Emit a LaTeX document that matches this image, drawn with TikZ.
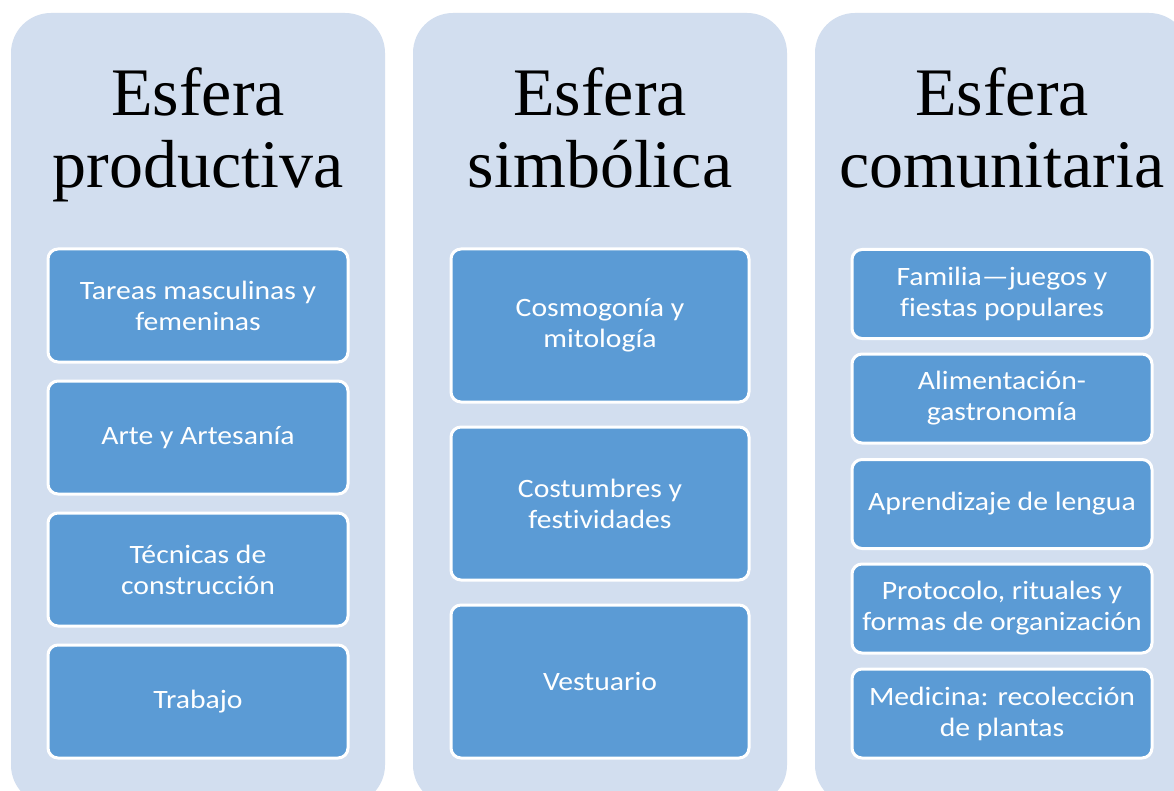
\documentclass[tikz,border=0pt]{standalone}
\usepackage{fontspec}
\setmainfont{Liberation Serif}
\newfontfamily\boxfont[FakeStretch=1.12,Ligatures={NoCommon}]{Carlito}
\definecolor{panelbg}{HTML}{D2DEEF}
\definecolor{boxblue}{HTML}{5B9BD5}
\begin{document}
\begin{tikzpicture}[x=1pt,y=-1pt,
  panel/.style={fill=panelbg, rounded corners=40pt},
  title/.style={anchor=base, align=center, font=\fontsize{68}{72}\selectfont, inner sep=0pt},
  item/.style={rounded corners=10pt, fill=boxblue, draw=white, line width=3pt,
    text=white, align=center, font=\boxfont\fontsize{26.5}{31}\selectfont, inner sep=2pt},
  itemA/.style={item, minimum width=300pt, minimum height=113pt},
  itemB/.style={item, minimum width=298pt, minimum height=153pt},
  itemC/.style={item, minimum width=300pt, minimum height=89pt}]
\useasboundingbox (0,0) rectangle (1174,791);
\clip (0,0) rectangle (1174,791);
\fill[white] (0,0) rectangle (1174,791);
% panels
\path[panel] (11,13) rectangle (385,805);
\path[panel] (413,13) rectangle (787,805);
\path[panel] (815,13) rectangle (1189,805);
% titles
\node[title] (t1) at (198,188) {Esfera\\productiva};
\node[title] (t2) at (600,188) {Esfera\\simbólica};
\node[title] (t3) at (1002,188) {Esfera\\comunitaria};
% column 1
\node[itemA] (a1) at (198,305.5) {Tareas masculinas y\\femeninas};
\node[itemA] (a2) at (198,437.5) {Arte y Artesanía};
\node[itemA] (a3) at (198,569.5) {Técnicas de\\construcción};
\node[itemA] (a4) at (198,701.5) {Trabajo};
% column 2
\node[itemB] (b1) at (600,325.5) {Cosmogonía y\\mitología};
\node[itemB] (b2) at (600,503.5) {Costumbres y\\festividades};
\node[itemB] (b3) at (600,681.5) {Vestuario};
% column 3
\node[itemC] (c1) at (1002,294) {Familia—juegos y\\fiestas populares};
\node[itemC] (c2) at (1002,398.5) {Alimentación-\\gastronomía};
\node[itemC] (c3) at (1002,504) {Aprendizaje de lengua};
\node[itemC] (c4) at (1002,608.5) {Protocolo, rituales y\\formas de organización};
\node[itemC] (c5) at (1002,713.5) {Medicina: recolección\\de plantas};
\end{tikzpicture}
\end{document}
